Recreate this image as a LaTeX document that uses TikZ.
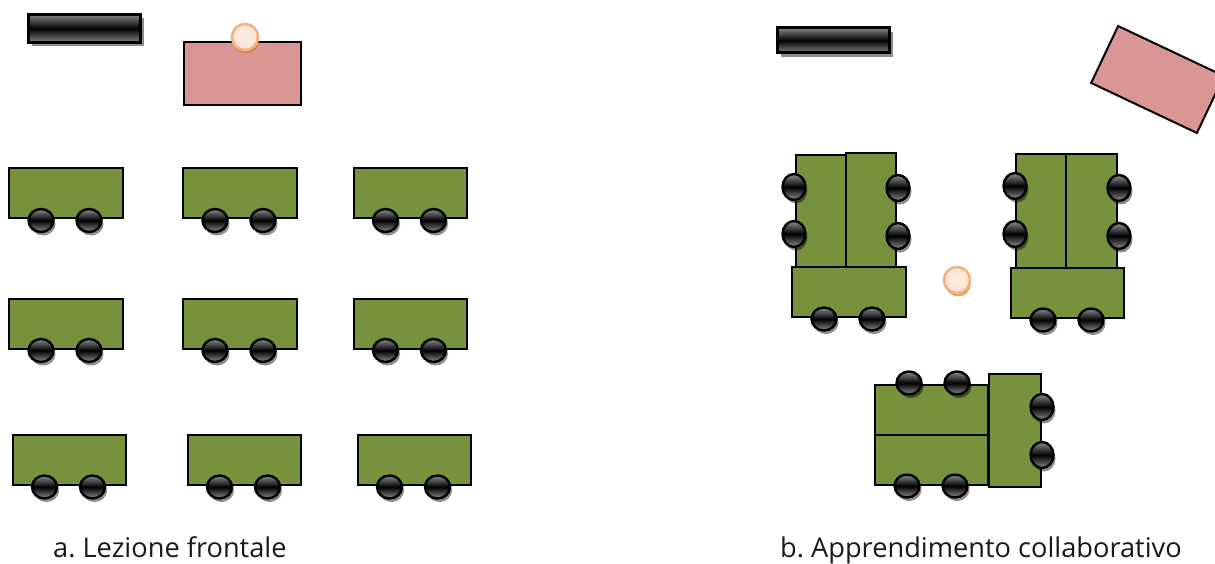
\documentclass[tikz,border=0pt]{standalone}
\usepackage{fontspec}
\setmainfont{Open Sans}
\usetikzlibrary{shadows,shapes.geometric}
\definecolor{deskgreen}{HTML}{76923C}
\definecolor{teacherpink}{HTML}{D99694}
\definecolor{skinfill}{HTML}{FBE5D6}
\definecolor{skinline}{HTML}{F4B183}
\tikzset{
  desk/.style={draw=black,line width=2pt,fill=deskgreen,inner sep=0pt,outer sep=0pt},
  teacherdesk/.style={draw=black,line width=2pt,fill=teacherpink,inner sep=0pt,outer sep=0pt,minimum width=117pt,minimum height=63pt},
  board/.style={draw=black,line width=3pt,top color=black!48,bottom color=black!48,middle color=black,
    inner sep=0pt,minimum width=112pt,minimum height=28pt,
    drop shadow={shadow xshift=3.5pt,shadow yshift=-4pt,fill=black,opacity=0.45}},
  chair/.style={ellipse,draw=black,line width=2.4pt,top color=black!45,bottom color=black!45,middle color=black,
    inner sep=0pt,minimum width=25pt,minimum height=23pt,
    drop shadow={shadow xshift=2pt,shadow yshift=-3.5pt,fill=black,opacity=0.45}},
  sidechair/.style={chair,minimum width=23pt,minimum height=26pt},
  person/.style={circle,draw=skinline,line width=2.6pt,inner color=skinfill!70,outer color=skinfill,
    inner sep=0pt,minimum size=26pt,
    drop shadow={shadow xshift=1pt,shadow yshift=-3.5pt,fill=brown!70!orange,opacity=0.7}},
  caption/.style={anchor=base west,inner sep=0pt,font=\fontsize{27.2}{30}\selectfont\frenchspacing,text=black!90}
}
\begin{document}
\begin{tikzpicture}[x=1pt,y=-1pt]
  \useasboundingbox (0,0) rectangle (1215,564);
  % left room: board and teacher
  \node[board] (boardA) at (84,28.5) {};
  \node[teacherdesk] (teacherA) at (242,73.5) {};
  \node[person] (personA) at (245,37) {};
  % left room: nine desks with two chairs each
  \foreach \n/\x/\y in {a/9/168.5,b/183/168.5,c/353.5/168.5,d/9/298.5,e/183/298.5,f/353.5/298.5,g/12.5/435,h/187.5/435,i/357.5/435}{
    \node[desk,minimum width=113.5pt,minimum height=50pt,anchor=north west] (desk\n) at (\x,\y) {};
    \node[chair] (chair\n1) at (\x+32,\y+52) {};
    \node[chair] (chair\n2) at (\x+80,\y+52) {};
  }
  % right room: board and teacher
  \node[board,minimum height=25pt] (boardB) at (833,40.5) {};
  \node[teacherdesk,rotate=-25.3] (teacherB) at (1157.5,79.5) {};
  \node[person] (personB) at (957,280) {};
  % right room: first group
  \node[desk,minimum width=50pt,minimum height=112pt,anchor=north west] (deskAa) at (796,155) {};
  \node[desk,minimum width=50pt,minimum height=114pt,anchor=north west] (deskAb) at (846,153) {};
  \node[desk,minimum width=114pt,minimum height=50pt,anchor=north west] (deskAc) at (792,267) {};
  \foreach \n/\x/\y in {a/794/187,b/794/234,c/898/188,d/898/236}
    \node[sidechair] (chairA\n) at (\x,\y) {};
  \node[chair] (chairAe) at (824,319) {};
  \node[chair] (chairAf) at (872,319) {};
  % right room: second group
  \node[desk,minimum width=50pt,minimum height=114pt,anchor=north west] (deskBa) at (1016,154) {};
  \node[desk,minimum width=51pt,minimum height=114pt,anchor=north west] (deskBb) at (1066,154) {};
  \node[desk,minimum width=113pt,minimum height=50pt,anchor=north west] (deskBc) at (1011,268) {};
  \foreach \n/\x/\y in {a/1015/186,b/1015/234,c/1119/188,d/1119/236}
    \node[sidechair] (chairB\n) at (\x,\y) {};
  \node[chair] (chairBe) at (1043,320) {};
  \node[chair] (chairBf) at (1091,320) {};
  % right room: third group
  \node[desk,minimum width=113pt,minimum height=50pt,anchor=north west] (deskCa) at (875,385) {};
  \node[desk,minimum width=113pt,minimum height=50pt,anchor=north west] (deskCb) at (875,435) {};
  \node[desk,minimum width=52pt,minimum height=113pt,anchor=north west] (deskCc) at (989,374) {};
  \foreach \n/\x/\y in {a/909/383,b/957/383,c/907/486,d/955/486}
    \node[chair] (chairC\n) at (\x,\y) {};
  \node[sidechair] (chairCe) at (1042,407) {};
  \node[sidechair] (chairCf) at (1042,455) {};
  % captions
  \node[caption] (captionA) at (53,557) {a. Lezione frontale};
  \node[caption] (captionB) at (780,557) {b. Apprendimento collaborativo};
\end{tikzpicture}
\end{document}
